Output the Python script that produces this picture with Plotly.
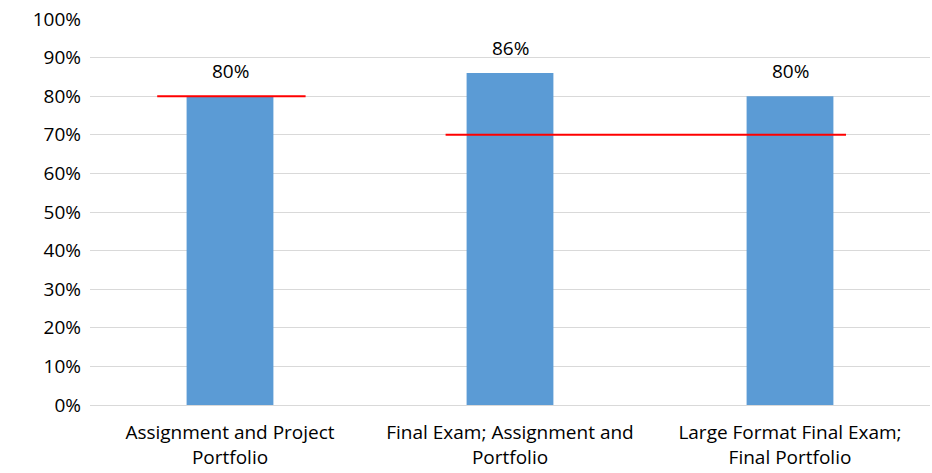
import plotly.graph_objects as go

categories = ["Assignment and Project<br>Portfolio",
              "Final Exam; Assignment and<br>Portfolio",
              "Large Format Final Exam;<br>Final Portfolio"]
scores = [80, 86, 80]

# target lines: value and the span (in category units) they cover
target_values = [80, 70]
target_starts = [-0.26, 0.77]
target_ends = [0.27, 2.2]

bar_color = "#5B9BD5"
font_family = "Open Sans, sans-serif"

fig = go.Figure()
fig.add_trace(go.Bar(
    x=list(range(len(categories))), y=scores,
    width=0.31, marker=dict(color=bar_color, line=dict(width=0)),
    hoverinfo="y",
))

for v, x0, x1 in zip(target_values, target_starts, target_ends):
    fig.add_trace(go.Scatter(x=[x0, x1], y=[v, v], mode="lines",
                             line=dict(color="#FF0000", width=2), hoverinfo="skip"))

# data labels above the bars
for i, v in enumerate(scores):
    fig.add_annotation(x=i, y=v, text=f"{v}%", showarrow=False,
                       yanchor="bottom", yshift=10,
                       font=dict(size=19, color="#000000"))

fig.update_layout(
    width=932, height=473,
    margin=dict(l=90, r=2, t=19, b=68),
    plot_bgcolor="white", paper_bgcolor="white",
    showlegend=False,
    font=dict(family=font_family, size=19, color="#000000"),
    xaxis=dict(range=[-0.5, 2.5], tickmode="array",
               tickvals=list(range(len(categories))), ticktext=categories,
               tickfont=dict(size=19),
               showgrid=False, zeroline=False, showline=False, ticks="",
               automargin=False, ticklabelstandoff=14),
    yaxis=dict(range=[0, 100], dtick=10, ticksuffix="%",
               showgrid=True, gridcolor="#D9D9D9", gridwidth=1,
               zeroline=True, zerolinecolor="#D9D9D9", zerolinewidth=1,
               showline=False, ticks="", ticklabelstandoff=8,
               automargin=False),
)

# drop the default body margin so the figure sits at the page origin
fig.write_html("out.html", config={"displayModeBar": False},
               post_script="document.body.style.margin='0';")
